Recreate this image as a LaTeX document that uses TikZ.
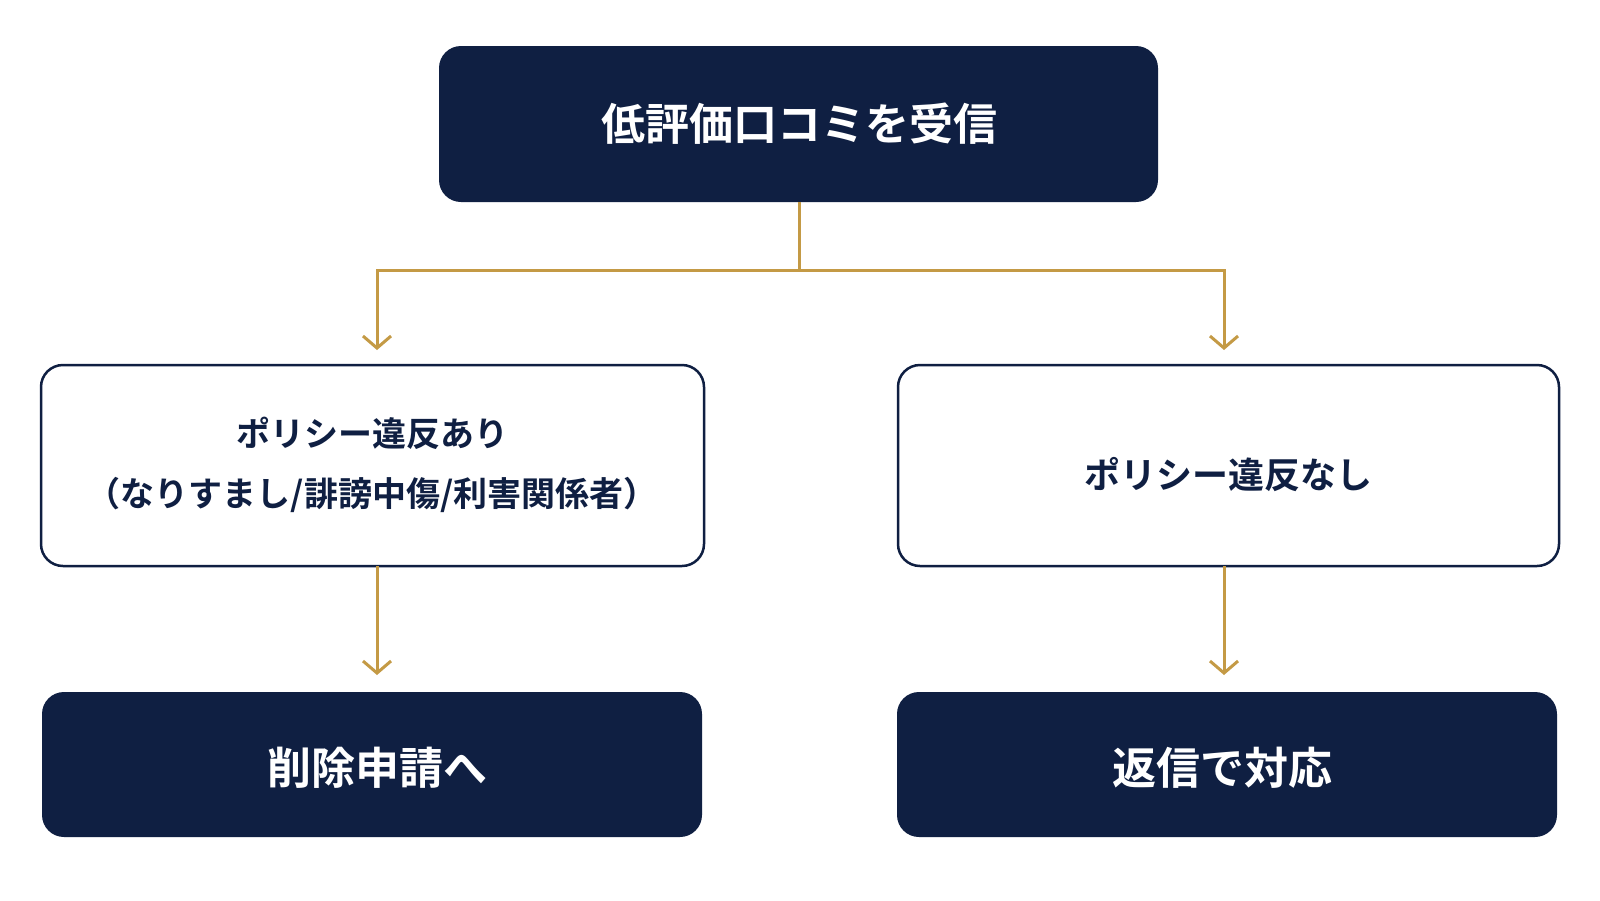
\documentclass[tikz,border=0pt]{standalone}
\usepackage{fontspec}
\setmainfont{Noto Sans CJK JP}[BoldFont={Noto Sans CJK JP Bold}]
\usetikzlibrary{arrows.meta}
\definecolor{navy}{HTML}{0F1F42}
\definecolor{gold}{HTML}{C49A45}
\begin{document}
\begin{tikzpicture}[x=1pt,y=-1pt,
  dark/.style={fill=navy,rounded corners=22pt,text=white,font=\bfseries\fontsize{42}{50}\selectfont},
  light/.style={fill=white,draw=navy,line width=2.5pt,rounded corners=22pt,text=navy,font=\bfseries\fontsize{34}{52}\selectfont,align=center},
  arr/.style={draw=gold,line width=3pt,-{Straight Barb[length=12pt,width=28pt,line width=3pt]}}]
\fill[white] (0,0) rectangle (1600,900);
\useasboundingbox (0,0) rectangle (1600,900);
\path[dark] (439,46) rectangle (1158,202);
\node[text=white,font=\bfseries\fontsize{44}{50}\selectfont] (top) at (799,124) {低評価口コミを受信};
\coordinate (topb) at (799,202);
\path[light] (41,365) rectangle (704,566);
\node[text=navy,font=\bfseries\fontsize{34}{60}\selectfont,align=center] (l) at (372,465) {ポリシー違反あり\\（なりすまし/誹謗中傷/利害関係者）};
\path[light] (898,365) rectangle (1559,566);
\node[text=navy,font=\bfseries\fontsize{36}{50}\selectfont] (r) at (1228,475) {ポリシー違反なし};
\path[dark] (42,692) rectangle (702,837);
\node[text=white,font=\bfseries\fontsize{44}{50}\selectfont] (bl) at (377,768) {削除申請へ};
\path[dark] (897,692) rectangle (1557,837);
\node[text=white,font=\bfseries\fontsize{44}{50}\selectfont] (br) at (1222,768) {返信で対応};
\coordinate (lt) at (377,350); \coordinate (rt) at (1224,350);
\coordinate (lb) at (377,566); \coordinate (lbt) at (377,675);
\coordinate (rb) at (1224,566); \coordinate (rbt) at (1224,675);
\draw[arr] (topb) -- (799,270) -| (lt);
\draw[arr] (799,270) -| (rt);
\draw[arr] (lb) -- (lbt);
\draw[arr] (rb) -- (rbt);
\end{tikzpicture}
\end{document}
